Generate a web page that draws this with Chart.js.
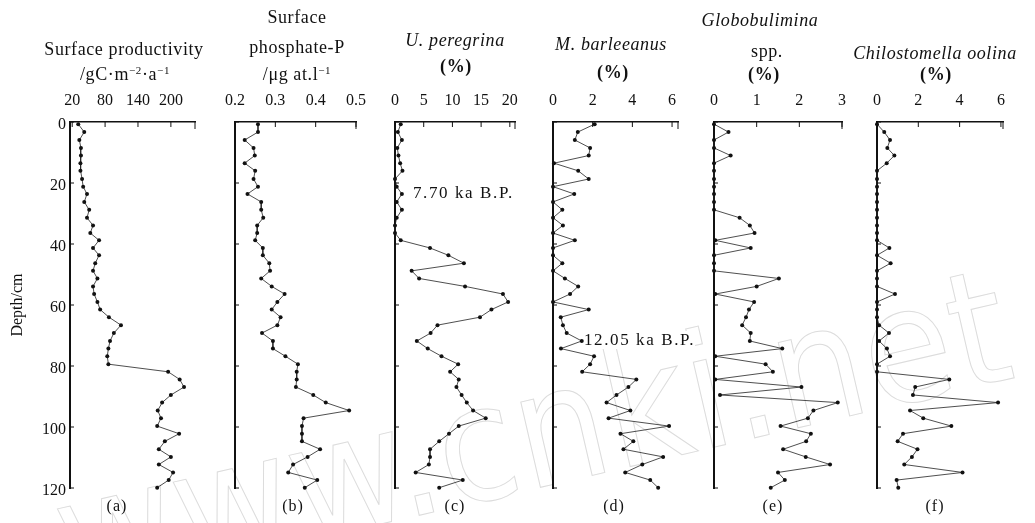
<!DOCTYPE html>
<html>
<head>
<meta charset="utf-8">
<script src="https://cdn.jsdelivr.net/npm/chart.js@4.4.1/dist/chart.umd.min.js"></script>
<style>
  body { margin: 0; background: #fff; }
  #wrap { position: relative; width: 1035px; height: 523px; overflow: hidden; font-family: "Liberation Serif", "DejaVu Serif", serif; color: #111; }
  #wrap canvas { position: absolute; top: 0; }
  .t { position: absolute; transform: translateX(-50%); white-space: nowrap; font-size: 18px; line-height: 18px; letter-spacing: 0.6px; }
  .t sup { font-size: 11px; line-height: 0; vertical-align: 6px; }
  .note { position: absolute; white-space: nowrap; font-size: 17px; line-height: 18px; letter-spacing: 1.6px; background: #fff; }
  .sub { position: absolute; transform: translateX(-50%); font-size: 16px; line-height: 18px; top: 497px; letter-spacing: 1px; }
  #mark { position: absolute; left: 41px; top: 464px; transform-origin: 0 0; transform: rotate(-13deg);
          font-family: "DejaVu Sans Condensed", "DejaVu Sans", sans-serif; font-stretch: condensed;
          font-size: 160px; line-height: 160px; letter-spacing: 1px;
          color: transparent; -webkit-text-stroke: 1px #dcdcdc; white-space: nowrap; }
</style>
</head>
<body>
<div id="wrap">
  <div id="mark">www.cnki.net</div>
</div>
<script>
// depth of each sample (cm), shared by all six profiles
const depths = [0.7, 3.3, 5.9, 8.5, 11, 13.5, 16, 18.7, 21.2, 23.6, 26.2, 28.8, 31.4, 33.9, 36.4, 38.8,
  41.3, 43.7, 46.3, 48.8, 51.3, 53.9, 56.4, 59, 61.5, 64, 66.6, 69.2, 71.8, 74.3, 76.8, 79.4,
  81.9, 84.4, 86.9, 89.5, 92, 94.6, 97.1, 99.7, 102.2, 104.7, 107.3, 109.8, 112.3, 114.9, 117.4, 119.9];

const productivity = [31, 42, 33, 36, 36, 35, 35, 38, 40, 47, 42, 51, 47, 58, 53, 69,
  58, 69, 62, 58, 66, 58, 60, 66, 71, 87, 109, 96, 89, 86, 84, 86,
  195, 216, 224, 200, 184, 176, 182, 175, 215, 189, 178, 200, 178, 204, 196, 175];

const phosphate = [0.257, 0.257, 0.224, 0.246, 0.249, 0.224, 0.250, 0.246, 0.257, 0.231, 0.265, 0.265, 0.270, 0.255, 0.255, 0.250,
  0.269, 0.269, 0.285, 0.287, 0.265, 0.291, 0.323, 0.305, 0.291, 0.313, 0.305, 0.267, 0.294, 0.294, 0.325, 0.356,
  0.353, 0.353, 0.351, 0.394, 0.425, 0.483, 0.370, 0.366, 0.366, 0.366, 0.411, 0.380, 0.344, 0.332, 0.404, 0.373];

const peregrina = [1.0, 0.5, 1.2, 0.4, 0.6, 0.9, 1.3, 0, 0.3, 1.2, 0.3, 1.2, 0.3, 0, 0, 1.0,
  6.1, 9.3, 12.0, 2.9, 4.2, 12.2, 18.8, 19.7, 16.8, 14.8, 7.4, 6.2, 3.8, 5.7, 8.1, 11.0,
  9.6, 11.1, 10.7, 11.6, 12.5, 13.6, 15.8, 11.1, 9.4, 7.7, 6.1, 6.1, 5.9, 3.6, 11.8, 7.7];

const barleeanus = [2.1, 1.25, 1.1, 1.87, 1.8, 0.05, 1.27, 1.8, 0, 1.07, 0, 0.47, 0, 0.5, 0, 1.1,
  0, 0, 0.47, 0, 0.6, 1.27, 0.86, 0, 1.8, 0.39, 0.5, 0.69, 1.45, 0.4, 2.07, 1.87,
  1.47, 4.2, 3.8, 3.2, 2.7, 3.9, 2.8, 5.85, 3.4, 4.05, 3.55, 5.55, 4.5, 3.64, 4.9, 5.3];

const globobulimina = [0, 0.34, 0, 0, 0.39, 0, 0, 0, 0, 0, 0, 0, 0.6, 0.84, 0.95, 0.03,
  0.86, 0, 0, 0, 1.52, 1.0, 0.03, 0.94, 0.82, 0.75, 0.66, 0.86, 0.84, 1.6, 0.03, 1.21,
  1.38, 0.03, 2.05, 0.14, 2.9, 2.33, 2.2, 1.56, 2.27, 2.16, 1.62, 2.15, 2.72, 1.5, 1.66, 1.33];

const chilostomella = [0, 0.35, 0.63, 0.5, 0.84, 0.47, 0, 0, 0, 0, 0, 0, 0, 0, 0, 0,
  0.6, 0, 0.66, 0, 0, 0, 0.87, 0, 0, 0, 0.1, 0.58, 0.1, 0.48, 0.63, 0,
  0, 3.5, 1.85, 1.74, 5.86, 1.6, 2.24, 3.6, 1.26, 1.0, 1.96, 1.69, 1.32, 4.14, 0.95, 1.03];

const depthTicks = [0, 20, 40, 60, 80, 100, 120];
const productivityTicks = [20, 80, 140, 200];
const phosphateTicks = [0.2, 0.3, 0.4, 0.5];
const peregrinaTicks = [0, 5, 10, 15, 20];
const barleeanusTicks = [0, 2, 4, 6];
const globoTicks = [0, 1, 2, 3];
const chiloTicks = [0, 2, 4, 6];

const panels = [
  { values: productivity, ticks: productivityTicks, min: 16, max: 244, left: 70, right: 195, depthAxis: true, label: '(a)', labelX: 117 },
  { values: phosphate, ticks: phosphateTicks, min: 0.2, max: 0.5, left: 233, right: 358, label: '(b)', labelX: 293 },
  { values: peregrina, ticks: peregrinaTicks, min: 0, max: 20.9, left: 395, right: 515, label: '(c)', labelX: 455 },
  { values: barleeanus, ticks: barleeanusTicks, min: 0, max: 6.3, left: 553, right: 678, label: '(d)', labelX: 614 },
  { values: globobulimina, ticks: globoTicks, min: 0, max: 3, left: 714, right: 842, label: '(e)', labelX: 773 },
  { values: chilostomella, ticks: chiloTicks, min: 0, max: 6.1, left: 877, right: 1003, label: '(f)', labelX: 935 }
];

const titles = [
  ['Surface productivity', 124, 49],
  ['/gC\u00b7m<sup>\u22122</sup>\u00b7a<sup>\u22121</sup>', 125, 74],
  ['Surface', 297, 17],
  ['phosphate-P', 297, 47],
  ['/\u03bcg at.l<sup>\u22121</sup>', 297, 74],
  ['<i>U. peregrina</i>', 455, 40],
  ['<b>(%)</b>', 456, 66],
  ['<i>M. barleeanus</i>', 611, 44],
  ['<b>(%)</b>', 613, 72],
  ['<i>Globobulimina</i>', 760, 20],
  ['spp.', 767, 51],
  ['<b>(%)</b>', 764, 74],
  ['<i>Chilostomella oolina</i>', 935, 53],
  ['<b>(%)</b>', 936, 74]
];

const wrap = document.getElementById('wrap');
const serif = '"Liberation Serif", "DejaVu Serif", serif';

// short tick marks pointing into the plot, plus the end tick of the top axis
const innerTicks = {
  id: 'innerTicks',
  afterDraw(chart) {
    const { ctx, scales: { x, y } } = chart;
    ctx.save();
    ctx.strokeStyle = '#111';
    ctx.lineWidth = 1;
    ctx.beginPath();
    x.ticks.forEach(t => {
      const px = x.getPixelForValue(t.value);
      ctx.moveTo(px, y.top);
      ctx.lineTo(px, y.top + 5);
    });
    ctx.moveTo(x.right, y.top);
    ctx.lineTo(x.right, y.top + 7);
    y.ticks.forEach(t => {
      const py = y.getPixelForValue(t.value);
      ctx.moveTo(x.left, py);
      ctx.lineTo(x.left + 4, py);
    });
    ctx.stroke();
    ctx.restore();
  }
};

panels.forEach(p => {
  const padL = p.depthAxis ? 8 : 20;
  const yW = p.depthAxis ? 62 : 0;
  const cLeft = p.left - padL - yW;
  const canvas = document.createElement('canvas');
  canvas.width = p.right - cLeft + 20;
  canvas.height = 523;
  canvas.style.left = cLeft + 'px';
  wrap.appendChild(canvas);

  new Chart(canvas, {
    type: 'line',
    data: {
      datasets: [{
        data: depths.map((d, i) => ({ x: p.values[i], y: d })),
        borderColor: '#222',
        borderWidth: 0.8,
        pointRadius: 2,
        pointBackgroundColor: '#111',
        pointBorderWidth: 0,
        tension: 0,
        clip: false
      }]
    },
    options: {
      responsive: false,
      animation: false,
      devicePixelRatio: 1,
      layout: { padding: { left: padL, right: 20, top: 92, bottom: 35 } },
      plugins: { legend: { display: false }, tooltip: { enabled: false } },
      scales: {
        x: {
          type: 'linear',
          position: 'top',
          min: p.min,
          max: p.max,
          afterBuildTicks: s => { s.ticks = p.ticks.map(v => ({ value: v })); },
          afterFit: s => { s.height = 30; },
          grid: { display: false, drawTicks: false },
          border: { display: true, color: '#111', width: 1.5 },
          ticks: {
            color: '#111',
            font: { family: serif, size: 16 },
            padding: 12,
            maxRotation: 0,
            autoSkip: false,
            callback: v => String(v)
          }
        },
        y: {
          type: 'linear',
          reverse: true,
          min: 0,
          max: 120,
          afterBuildTicks: s => { s.ticks = depthTicks.map(v => ({ value: v })); },
          afterFit: s => { s.width = yW; },
          grid: { display: false, drawTicks: false },
          border: { display: true, color: '#111', width: 2 },
          ticks: {
            display: !!p.depthAxis,
            color: '#111',
            font: { family: serif, size: 16 },
            padding: 4,
            labelOffset: 3
          },
          title: {
            display: !!p.depthAxis,
            text: 'Depth/cm',
            color: '#111',
            font: { family: serif, size: 16 },
            padding: 0
          }
        }
      }
    },
    plugins: [innerTicks]
  });

  const sub = document.createElement('div');
  sub.className = 'sub';
  sub.style.left = p.labelX + 'px';
  sub.textContent = p.label;
  wrap.appendChild(sub);
});

titles.forEach(([html, cx, cy]) => {
  const el = document.createElement('div');
  el.className = 't';
  el.style.left = cx + 'px';
  el.style.top = (cy - 9) + 'px';
  el.innerHTML = html;
  wrap.appendChild(el);
});

const notes = [['7.70 ka B.P.', 413, 193], ['12.05 ka B.P.', 584, 340]];
notes.forEach(([txt, x, cy]) => {
  const el = document.createElement('div');
  el.className = 'note';
  el.style.left = x + 'px';
  el.style.top = (cy - 9) + 'px';
  el.textContent = txt;
  wrap.appendChild(el);
});
</script>
</body>
</html>
